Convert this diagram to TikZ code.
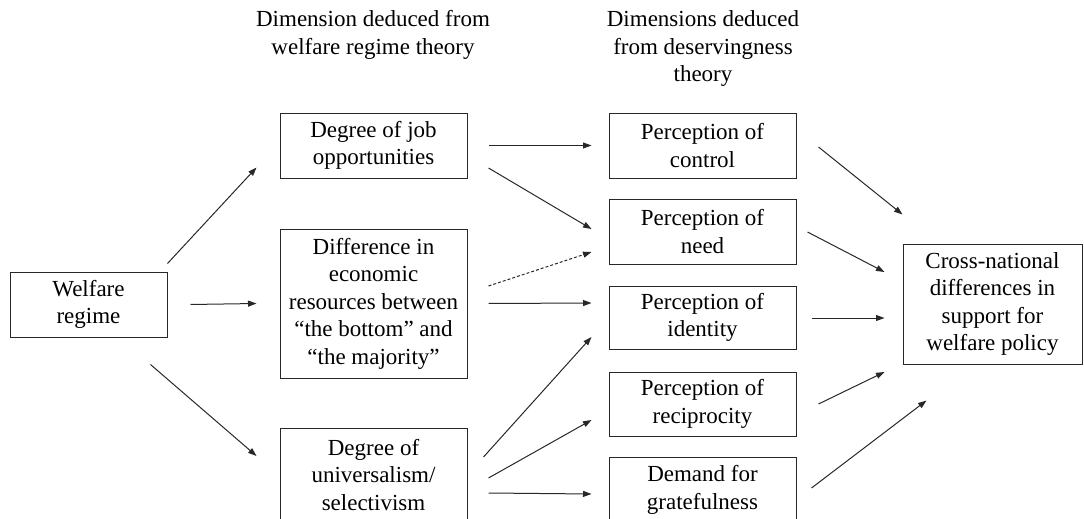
\documentclass[tikz,border=0pt]{standalone}
\usepackage{fontspec}
\setmainfont{Liberation Serif}
\usetikzlibrary{arrows.meta,calc}
\definecolor{lineGrey}{RGB}{40,40,40}

\tikzset{
  box/.style={draw=lineGrey,line width=1pt,align=center,inner sep=0pt,font=\fontsize{23}{27.5}\selectfont},
  conn/.style={draw=lineGrey,line width=1pt,-{Triangle[length=8.5pt,width=6pt]}},
  heading/.style={align=center,font=\fontsize{23}{27.5}\selectfont}
}

\begin{document}
\begin{tikzpicture}[x=1pt,y=-1pt]
        \useasboundingbox (0,0) rectangle (1084,519);
        % column headings
        \node[heading] (headA) at (373,35) {Dimension deduced from\\welfare regime theory};
        \node[heading] (headB) at (703,49) {Dimensions deduced\\from deservingness\\theory};
        % left and middle column
        \node[box,minimum width=157pt,minimum height=65pt] (welfare) at (88.5,304.5) {Welfare\\regime};
        \node[box,minimum width=187pt,minimum height=65pt] (job) at (373.5,145.5) {Degree of job\\opportunities};
        \node[box,minimum width=187pt,minimum height=149pt] (diff) at (373.5,303.5) {Difference in\\economic\\resources between\\``the bottom'' and\\``the majority''};
        \node[box,minimum width=187pt,minimum height=94pt] (univ) at (373.5,475) {Degree of\\universalism/\\selectivism};
        % deservingness column
        \foreach \n/\y/\h/\lab in {ctrl/145.5/65/{Perception of\\control},need/231.5/65/{Perception of\\need},iden/317.5/63/{Perception of\\identity},reci/404/64/{Perception of\\reciprocity},grat/490/66/{Demand for\\gratefulness}} {
          \node[box,minimum width=187pt,minimum height=\h pt] (\n) at (702.5,\y) {\lab};
        }
        \node[box,minimum width=179pt,minimum height=120pt] (cross) at (992.5,304) {Cross-national\\differences in\\support for\\welfare policy};
        % welfare regime to dimensions
        \draw[conn] ($(welfare.north east)+(0,-8)$) -- ($(job.south west)+(-23,-11)$);
        \draw[conn] ($(welfare.east)+(23,0)$) -- ($(diff.west)+(-23,0)$);
        \draw[conn] ($(welfare.south east)+(-17,27)$) -- ($(univ.west)+(-23,-19)$);
        % dimensions to deservingness
        \draw[conn] ($(job.east)+(21,0)$) -- ($(ctrl.west)+(-17,0)$);
        \draw[conn] ($(job.east)+(21,22.5)$) -- ($(need.west)+(-17,-2.5)$);
        \draw[conn,dash pattern=on 3pt off 2pt] ($(diff.east)+(21,-17.5)$) -- ($(need.west)+(-17,20.5)$);
        \draw[conn] ($(diff.east)+(21,0)$) -- ($(iden.west)+(-17,-14.5)$);
        \draw[conn] ($(univ.east)+(16,-18)$) -- ($(iden.west)+(-17,19.5)$);
        \draw[conn] ($(univ.east)+(21,3)$) -- ($(reci.west)+(-17,16)$);
        \draw[conn] ($(univ.east)+(21,18)$) -- ($(grat.west)+(-17,4)$);
        % deservingness to support
        \draw[conn] ($(ctrl.east)+(22,1.5)$) -- ($(cross.north west)+(0,-29)$);
        \draw[conn] ($(need.east)+(11,0.5)$) -- ($(cross.west)+(-18,-32)$);
        \draw[conn] ($(iden.east)+(15,0.5)$) -- ($(cross.west)+(-18,14)$);
        \draw[conn] ($(reci.east)+(22,0)$) -- ($(cross.west)+(-18,68)$);
        \draw[conn] ($(grat.east)+(15,-2)$) -- ($(cross.south west)+(24,36)$);
      \end{tikzpicture}
\end{document}
